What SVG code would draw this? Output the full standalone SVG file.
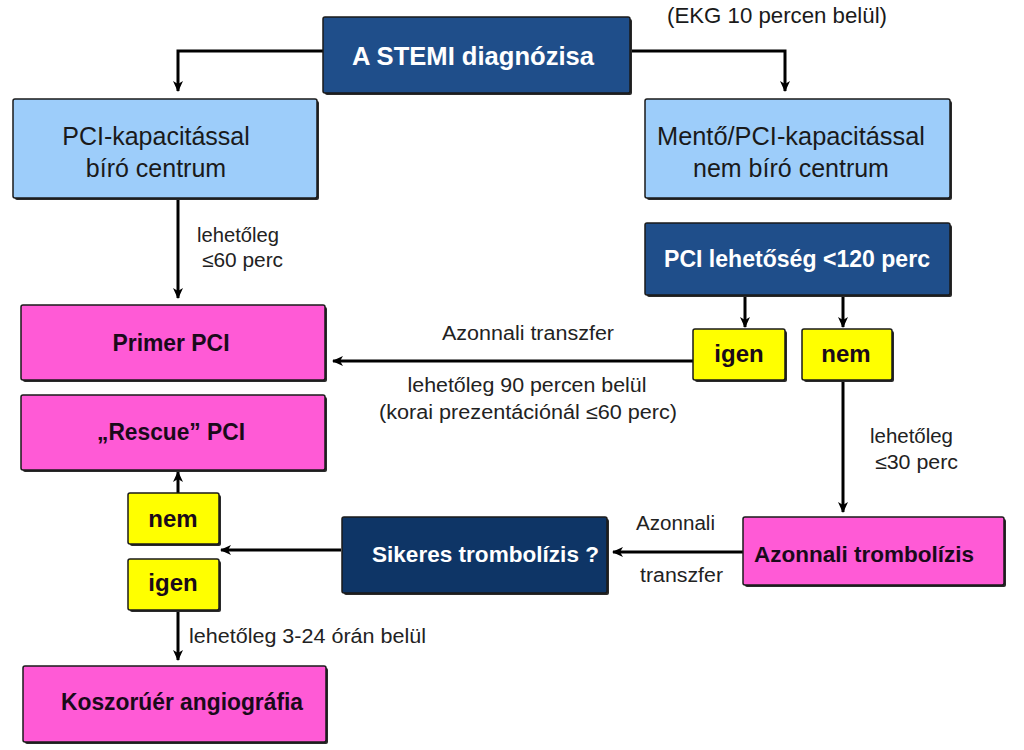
<svg xmlns="http://www.w3.org/2000/svg" width="1024" height="750" viewBox="0 0 1024 750">
<style>
.box{stroke:#1a1a1a;stroke-width:1.5}
.shadow{fill:#2a2a2a}
.dblue{fill:#1F4E8A}
.navy{fill:#0E3566}
.lblue{fill:#9DCDFA}
.mag{fill:#FF5AD6}
.yel{fill:#FFFF00}
.conn{fill:none;stroke:#000;stroke-width:3}
text{font-family:"Liberation Sans",Arial,sans-serif}
.bw{font-weight:bold;fill:#fff}
.bk{font-weight:bold;fill:#1a0a1a}
.reg{fill:#1a1a1a}
.lbl{fill:#222;font-size:20px}
</style>
<defs>
<marker id="ah" markerWidth="12" markerHeight="12" refX="10" refY="6" orient="auto" markerUnits="userSpaceOnUse">
<path d="M0,1 L11,6 L0,11 L3,6 z" fill="#000"/>
</marker>
</defs>
<rect width="1024" height="750" fill="#fff"/>

<g id="connectors">
<path class="conn" d="M323,51 H178 V91" marker-end="url(#ah)"/>
<path class="conn" d="M630,51 H785 V91" marker-end="url(#ah)"/>
<path class="conn" d="M178,198 V298" marker-end="url(#ah)"/>
<path class="conn" d="M745,296 V327" marker-end="url(#ah)"/>
<path class="conn" d="M843,296 V327" marker-end="url(#ah)"/>
<path class="conn" d="M693,361 H333" marker-end="url(#ah)"/>
<path class="conn" d="M843,380 V512" marker-end="url(#ah)"/>
<path class="conn" d="M743,552 H613" marker-end="url(#ah)"/>
<path class="conn" d="M341,550 H221" marker-end="url(#ah)"/>
<path class="conn" d="M178,493 V472" marker-end="url(#ah)"/>
<path class="conn" d="M178,610 V660" marker-end="url(#ah)"/>
<text class="lbl" x="197" y="242" textLength="82" lengthAdjust="spacingAndGlyphs">lehetőleg</text>
<text class="lbl" x="202" y="267" textLength="81" lengthAdjust="spacingAndGlyphs">≤60 perc</text>
<text class="lbl" x="528" y="340" text-anchor="middle" textLength="172" lengthAdjust="spacingAndGlyphs">Azonnali transzfer</text>
<text class="lbl" x="527" y="392" text-anchor="middle" textLength="239" lengthAdjust="spacingAndGlyphs">lehetőleg 90 percen belül</text>
<text class="lbl" x="528" y="419" text-anchor="middle" textLength="298" lengthAdjust="spacingAndGlyphs">(korai prezentációnál ≤60 perc)</text>
<text class="lbl" x="870" y="443" textLength="83" lengthAdjust="spacingAndGlyphs">lehetőleg</text>
<text class="lbl" x="875" y="469" textLength="83" lengthAdjust="spacingAndGlyphs">≤30 perc</text>
<text class="lbl" x="636" y="530" textLength="79" lengthAdjust="spacingAndGlyphs">Azonnali</text>
<text class="lbl" x="640" y="582" textLength="83" lengthAdjust="spacingAndGlyphs">transzfer</text>
<text class="lbl" x="189" y="643" textLength="237" lengthAdjust="spacingAndGlyphs">lehetőleg 3-24 órán belül</text>
</g>

<g id="ekg-note">
<text class="reg" x="667" y="23" font-size="22" textLength="220" lengthAdjust="spacingAndGlyphs">(EKG 10 percen belül)</text>
</g>

<g id="stemi">
<rect class="shadow" x="325" y="19" width="307" height="76" rx="2"/>
<rect class="box dblue" x="323" y="17" width="307" height="76" rx="2"/>
<text class="bw" x="473" y="65" font-size="25" text-anchor="middle" textLength="242" lengthAdjust="spacingAndGlyphs">A STEMI diagnózisa</text>
</g>

<g id="pci-center">
<rect class="shadow" x="15" y="101" width="304" height="99" rx="2"/>
<rect class="box lblue" x="13" y="99" width="304" height="99" rx="2"/>
<text class="reg" x="156" y="145" font-size="25" text-anchor="middle">PCI-kapacitással</text>
<text class="reg" x="156" y="177" font-size="25" text-anchor="middle">bíró centrum</text>
</g>

<g id="non-pci-center">
<rect class="shadow" x="647" y="101" width="305" height="99" rx="2"/>
<rect class="box lblue" x="645" y="99" width="305" height="99" rx="2"/>
<text class="reg" x="791" y="145" font-size="25" text-anchor="middle" textLength="268" lengthAdjust="spacingAndGlyphs">Mentő/PCI-kapacitással</text>
<text class="reg" x="791" y="177" font-size="25" text-anchor="middle">nem bíró centrum</text>
</g>

<g id="pci-120">
<rect class="shadow" x="647" y="225" width="305" height="72" rx="2"/>
<rect class="box dblue" x="645" y="223" width="305" height="72" rx="2"/>
<text class="bw" x="797" y="267" font-size="23" text-anchor="middle" textLength="266" lengthAdjust="spacingAndGlyphs">PCI lehetőség &lt;120 perc</text>
</g>

<g id="igen-right">
<rect class="shadow" x="695" y="331" width="92" height="51" rx="2"/>
<rect class="box yel" x="693" y="329" width="92" height="51" rx="2"/>
<text class="bk" x="739" y="362" font-size="24" text-anchor="middle">igen</text>
</g>

<g id="nem-right">
<rect class="shadow" x="804" y="331" width="90" height="51" rx="2"/>
<rect class="box yel" x="802" y="329" width="90" height="51" rx="2"/>
<text class="bk" x="846" y="362" font-size="24" text-anchor="middle">nem</text>
</g>

<g id="primer-pci">
<rect class="shadow" x="23" y="307" width="304" height="75" rx="2"/>
<rect class="box mag" x="21" y="305" width="304" height="75" rx="2"/>
<text class="bk" x="171" y="351" font-size="23" text-anchor="middle" textLength="117" lengthAdjust="spacingAndGlyphs">Primer PCI</text>
</g>

<g id="rescue-pci">
<rect class="shadow" x="23" y="397" width="304" height="75" rx="2"/>
<rect class="box mag" x="21" y="395" width="304" height="75" rx="2"/>
<text class="bk" x="171" y="440" font-size="23" text-anchor="middle" textLength="148" lengthAdjust="spacingAndGlyphs">„Rescue” PCI</text>
</g>

<g id="nem-left">
<rect class="shadow" x="130" y="495" width="91" height="51" rx="2"/>
<rect class="box yel" x="128" y="493" width="91" height="51" rx="2"/>
<text class="bk" x="173" y="527" font-size="24" text-anchor="middle">nem</text>
</g>

<g id="igen-left">
<rect class="shadow" x="130" y="561" width="91" height="51" rx="2"/>
<rect class="box yel" x="128" y="559" width="91" height="51" rx="2"/>
<text class="bk" x="173" y="591" font-size="24" text-anchor="middle">igen</text>
</g>

<g id="sikeres">
<rect class="shadow" x="344" y="519" width="265" height="76" rx="2"/>
<rect class="box navy" x="342" y="517" width="265" height="76" rx="2"/>
<text class="bw" x="372" y="562" font-size="22" textLength="227" lengthAdjust="spacingAndGlyphs">Sikeres trombolízis  ?</text>
</g>

<g id="azonnali-trombolizis">
<rect class="shadow" x="745" y="519" width="261" height="68" rx="2"/>
<rect class="box mag" x="743" y="517" width="261" height="68" rx="2"/>
<text class="bk" x="754" y="562" font-size="22" textLength="220" lengthAdjust="spacingAndGlyphs">Azonnali trombolízis</text>
</g>

<g id="koszoruer">
<rect class="shadow" x="25" y="668" width="303" height="76" rx="2"/>
<rect class="box mag" x="23" y="666" width="303" height="76" rx="2"/>
<text class="bk" x="182" y="710" font-size="23" text-anchor="middle" textLength="242" lengthAdjust="spacingAndGlyphs">Koszorúér angiográfia</text>
</g>
</svg>
